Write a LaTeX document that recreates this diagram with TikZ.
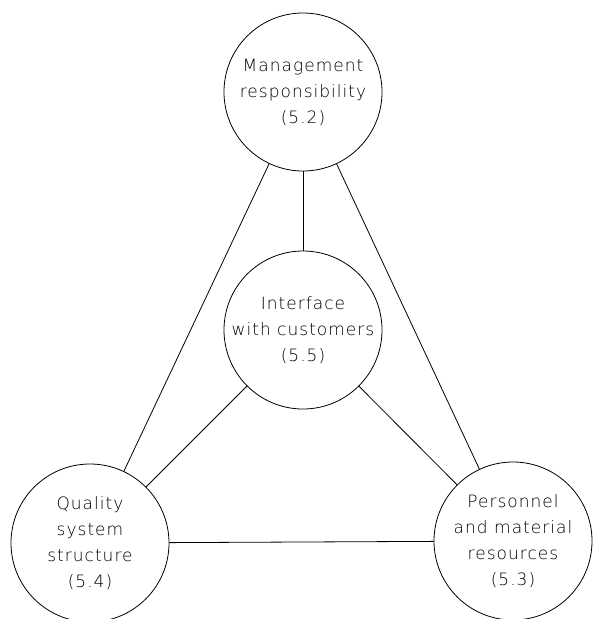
\documentclass[tikz,border=0pt]{standalone}
\usepackage{fontspec}
\newfontfamily\isofont[LetterSpace=6]{DejaVu Sans ExtraLight}
\usetikzlibrary{positioning}

\tikzset{
  unit/.style={draw,circle,minimum size=158pt,inner sep=0pt,line width=0.8pt,
    align=center,font=\isofont\fontsize{17}{26}\selectfont},
  link/.style={line width=0.8pt}
}

\begin{document}
\begin{tikzpicture}[x=1pt,y=-1pt]
\useasboundingbox (0,0) rectangle (598,619);
\node[unit] (mgmt) at (303,92) {Management\\responsibility\\(5.2)};
\node[unit] (iface) at (303,330) {Interface\\with customers\\(5.5)};
\node[unit] (qual) at (90,543) {Quality\\system\\structure\\(5.4)};
\node[unit] (pers) at (513,541) {Personnel\\and material\\resources\\(5.3)};
% links between the units
\draw[link] (mgmt) -- (iface);
\draw[link] (mgmt) -- (qual);
\draw[link] (mgmt) -- (pers);
\draw[link] (iface) -- (qual);
\draw[link] (iface) -- (pers);
\draw[link] (qual) -- (pers);
\end{tikzpicture}
\end{document}
